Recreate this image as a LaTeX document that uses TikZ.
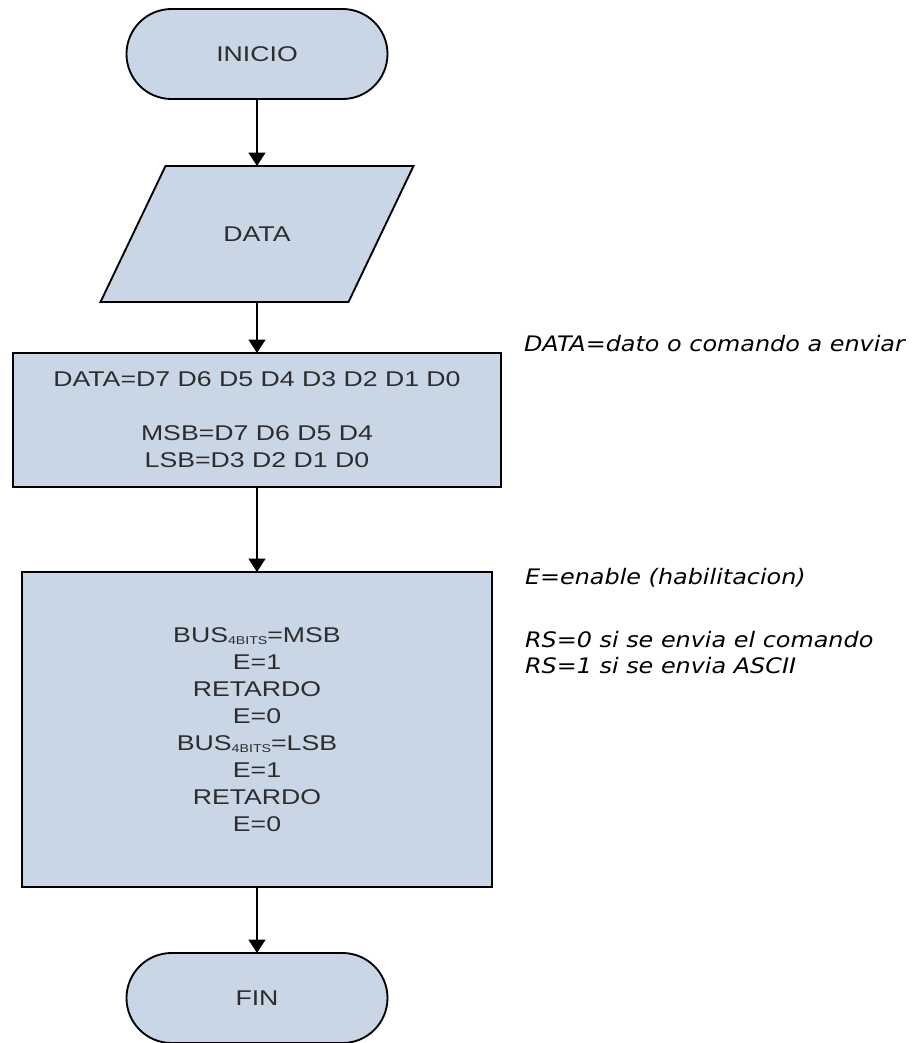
\documentclass[tikz,border=0pt]{standalone}
\usepackage{fontspec}
\newfontfamily\flowfont{Liberation Sans}[FakeStretch=1.25]
\newfontfamily\notefont{DejaVu Sans}[FakeStretch=1.12]
\usetikzlibrary{shapes.misc,arrows.meta,calc,backgrounds}
\definecolor{boxfill}{RGB}{201,214,230}
\definecolor{boxtext}{RGB}{45,45,45}
\newcommand{\fourbits}{\raisebox{-1.5pt}{\fontsize{8.5}{8.5}\selectfont 4BITS}}

\begin{document}
\begin{tikzpicture}[x=0.75pt,y=-0.75pt,
  every node/.style={inner sep=0pt, outer sep=0pt},
  outline/.style={draw=black, line width=1.4pt, fill=boxfill},
  shapebox/.style={outline, text=boxtext,
    font=\flowfont\fontsize{16}{20.25}\selectfont, align=center},
  terminal/.style={shapebox, rounded rectangle,
    minimum width=195.75pt, minimum height=67.5pt},
  iotext/.style={text=boxtext, font=\flowfont\fontsize{16}{20.25}\selectfont,
    minimum width=234.75pt, minimum height=102pt},
  procbox/.style={shapebox, rectangle},
  note/.style={anchor=base west, text=black,
    font=\notefont\itshape\fontsize{16}{20}\selectfont},
  flow/.style={draw=black, line width=1.6pt,
    -{Triangle[length=10pt, width=12.5pt]}}
]
\useasboundingbox (0,0) rectangle (916,1043);
\clip (0,0) rectangle (916,1043);

% flowchart blocks
\node[terminal] (inicio) at (257,54) {INICIO};
\node[iotext] (data) at (257,234) {DATA};
\begin{scope}[on background layer]
  % input/output parallelogram around the DATA node
  \path[outline] (data.south west) -- ($(data.south east)+(-65,0)$)
    -- (data.north east) -- ($(data.north west)+(65,0)$) -- cycle;
\end{scope}
\node[procbox, minimum width=366pt, minimum height=100.5pt] (split) at (257,420)
  {DATA=D7 D6 D5 D4 D3 D2 D1 D0\\[20.25pt]MSB=D7 D6 D5 D4\\LSB=D3 D2 D1 D0};
\node[procbox, minimum width=352.5pt, minimum height=236.25pt] (send) at (257,729.5)
  {BUS\fourbits=MSB\\E=1\\RETARDO\\E=0\\BUS\fourbits=LSB\\E=1\\RETARDO\\E=0};
\node[terminal] (fin) at (257,998) {FIN};

% connectors
\draw[flow] (inicio.south) -- (data.north);
\draw[flow] (data.south) -- (split.north);
\draw[flow] (split.south) -- (send.north);
\draw[flow] (send.south) -- (fin.north);

% side notes
\node[note] (n1) at (524,351) {DATA=dato o comando a enviar};
\node[note] (n2) at (525,584) {E=enable (habilitacion)};
\node[note] (n3) at (525,647) {RS=0 si se envia el comando};
\node[note] (n4) at (525,673) {RS=1 si se envia ASCII};
\end{tikzpicture}
\end{document}
